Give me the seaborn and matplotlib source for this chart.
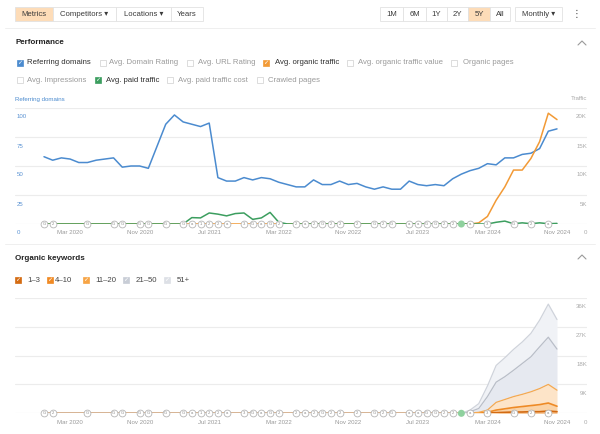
import numpy as np
import matplotlib
matplotlib.use("Agg")
import matplotlib.pyplot as plt
from matplotlib.patches import Rectangle
from matplotlib.lines import Line2D
from matplotlib import transforms
import seaborn as sns

W, H = 600, 434

# x axis: one point per month, Dec 2019 .. Nov 2024
month_ticks = [3, 11, 19, 27, 35, 43, 51, 59]
month_labels = ["Mar 2020", "Nov 2020", "Jul 2021", "Mar 2022",
                "Nov 2022", "Jul 2023", "Mar 2024", "Nov 2024"]

referring_domains = [58, 55, 57, 56, 53, 53, 55, 56, 57, 49,
                     50, 50, 48, 67, 86, 94, 88, 86, 84, 87,
                     40, 37, 37, 40, 38, 40, 39, 36, 34, 32,
                     32, 38, 34, 34, 37, 34, 35, 32, 30, 32,
                     30, 30, 37, 34, 33, 34, 33, 39, 43, 46,
                     48, 52, 51, 57, 57, 60, 61, 65, 80, 82]

# thousands
organic_traffic = [0, 0, 0, 0, 0, 0, 0, 0, 0, 0,
                   0, 0, 0, 0, 0, 0, 0, 0, 0, 0,
                   0, 0, 0, 0, 0, 0, 0, 0, 0, 0,
                   0, 0, 0, 0, 0, 0, 0, 0, 0, 0,
                   0, 0, 0, 0, 0, 0, 0, 0, 0, 0,
                   0.2, 1.3, 4.1, 6.4, 9.3, 9.3, 11.3, 14.2, 19.1, 18.0]

paid_traffic = [0, 0, 0, 0, 0, 0, 0, 0, 0, 0,
                0, 0, 0, 0, 0, 0, 0, 1.1, 1.05, 1.9,
                1.7, 1.4, 1.8, 1.9, 0.8, 1.05, 2.0, 0.3, 0, 0,
                0, 0, 0, 0, 0, 0, 0, 0, 0, 0,
                0, 0, 0, 0, 0, 0, 0, 0, 0, 0,
                0, 0, 0.3, 0.5, 0.05, 0.2, 0.05, 0.2, 0.05, 0.1]

# organic keywords by position (thousands)
kw_1_3 = [0, 0, 0, 0, 0, 0, 0, 0, 0, 0,
          0, 0, 0, 0, 0, 0, 0, 0, 0, 0,
          0, 0, 0, 0, 0, 0, 0, 0, 0, 0,
          0, 0, 0, 0, 0, 0, 0, 0, 0, 0,
          0, 0, 0, 0, 0, 0, 0, 0, 0, 0,
          0.05, 0.1, 0.2, 0.3, 0.4, 0.4, 0.5, 0.5, 0.7, 0.5]
kw_4_10 = [0, 0, 0, 0, 0, 0, 0, 0, 0, 0,
           0, 0, 0, 0, 0, 0, 0, 0, 0, 0,
           0, 0, 0, 0, 0, 0, 0, 0, 0, 0,
           0, 0, 0, 0, 0, 0, 0, 0, 0, 0,
           0, 0, 0, 0, 0, 0, 0, 0, 0, 0,
           0.05, 0.2, 0.8, 1.1, 1.4, 1.7, 1.9, 2.2, 2.5, 1.7]
kw_11_20 = [0, 0, 0, 0, 0, 0, 0, 0, 0, 0,
            0, 0, 0, 0, 0, 0, 0, 0, 0, 0,
            0, 0, 0, 0, 0, 0, 0, 0, 0, 0,
            0, 0, 0, 0, 0, 0, 0, 0, 0, 0,
            0, 0, 0, 0, 0, 0, 0, 0, 0, 0.1,
            0.2, 0.7, 2.4, 2.9, 3.4, 3.8, 4.3, 5.0, 5.8, 5.0]
kw_21_50 = [0, 0, 0, 0, 0, 0, 0, 0, 0, 0,
            0, 0, 0, 0, 0, 0, 0, 0, 0, 0,
            0, 0, 0, 0, 0, 0, 0, 0, 0, 0,
            0, 0, 0, 0, 0, 0, 0, 0, 0, 0,
            0, 0, 0, 0, 0, 0, 0, 0, 0, 0.4,
            1.2, 4.2, 6.3, 7.1, 8.2, 9.6, 10.9, 13.0, 14.7, 12.8]
kw_51 = [0, 0, 0, 0, 0, 0, 0, 0, 0, 0,
         0, 0, 0, 0, 0, 0, 0, 0, 0, 0,
         0, 0, 0, 0, 0, 0, 0, 0, 0, 0,
         0, 0, 0, 0, 0, 0, 0, 0, 0, 0,
         0, 0, 0, 0, 0, 0, 0, 0, 0, 0.5,
         1.5, 3.3, 5.2, 5.9, 6.5, 6.7, 7.3, 8.3, 10.3, 9.2]

kw_labels = ["1–3", "4–10", "11–20", "21–50", "51+"]
kw_fill = ["#f7bd84", "#fbd3a6", "#fde4c8", "#e6e9f0", "#f0f2f6"]
kw_line = ["#d26a12", "#ee8a25", "#f6a94f", "#b9bec8", "#cfd3db"]
kw_box = ["#d46b12", "#f08a24", "#f7a444", "#c8cdd6", "#dde0e6"]

# annotation markers along the baseline
ann_idx = [0, 1, 5, 8, 9, 11, 12, 14, 16, 17, 18, 19, 20, 21, 23, 24, 25, 26, 27, 29,
           30, 31, 32, 33, 34, 36, 38, 39, 40, 42, 43, 44, 45, 46, 47, 49, 51, 54, 56, 58]
ann_txt = ["G", "2", "G", "G", "G", "G", "G", "G", "G", "a", "1", "2", "2", "a", "3", "G", "a", "G", "2", "2",
           "a", "2", "G", "2", "2", "2", "G", "2", "G", "a", "a", "G", "G", "2", "2", "a", "3", "G", "2", "a"]
green_dot = 48

left_ticks = [0, 25, 50, 75, 100]
right_ticks = [0, 5, 10, 15, 20]
right_labels = ["0", "5K", "10K", "15K", "20K"]
kw_ticks = [0, 9, 18, 27, 36]
kw_tick_labels = ["0", "9K", "18K", "27K", "36K"]

BLUE = "#4b8bcf"
ORANGE = "#f29a36"
GREEN = "#3c9e5f"
GRID = "#ececec"

sns.set_theme(style="white")
plt.rcParams["font.family"] = ["Liberation Sans", "DejaVu Sans"]

fig = plt.figure(figsize=(W / 100, H / 100), dpi=100, facecolor="white")
idx = np.arange(len(referring_domains))


def txt(x, y, s, size=5.6, color="#333333", ha="left", weight="normal", **kw):
    fig.text(x / W, 1 - y / H, s, fontsize=size, color=color, ha=ha, va="center",
             fontweight=weight, **kw)


def rect(x0, y0, x1, y1, fc, ec, lw=0.6):
    fig.patches.append(Rectangle((x0 / W, 1 - y1 / H), (x1 - x0) / W, (y1 - y0) / H,
                                 transform=fig.transFigure, fc=fc, ec=ec, lw=lw))


def hline(x0, x1, y, color="#ececec", lw=0.7):
    fig.add_artist(Line2D([x0 / W, x1 / W], [1 - y / H, 1 - y / H], color=color, lw=lw))


def chevron(x, y):
    fig.add_artist(Line2D([(x - 4) / W, x / W, (x + 4) / W],
                          [1 - (y + 2) / H, 1 - (y - 2) / H, 1 - (y + 2) / H],
                          color="#9a9a9a", lw=0.8))


def checkbox(cx, cy, color=None):
    s = 6
    if color:
        rect(cx - s / 2, cy - s / 2, cx + s / 2, cy + s / 2, color, color, 0.5)
        fig.text(cx / W, 1 - cy / H, "✓", fontsize=4.5, color="white", ha="center",
                 va="center", family="DejaVu Sans", fontweight="bold")
    else:
        rect(cx - s / 2, cy - s / 2, cx + s / 2, cy + s / 2, "white", "#cfcfcf", 0.5)


# ---- toolbar ----
for x0, x1, label, on in [(15, 53, "Metrics", True), (53, 116, "Competitors ▾", False),
                          (116, 171, "Locations ▾", False), (171, 203, "Years", False)]:
    rect(x0, 7, x1, 21, "#fddcb8" if on else "white", "#e2e2e2")
    txt((x0 + x1) / 2, 14, label, ha="center", color="#3a3a3a")
for x0, x1, label, on in [(380, 403, "1M", False), (403, 426, "6M", False), (426, 447, "1Y", False),
                          (447, 468, "2Y", False), (468, 490, "5Y", True), (490, 510, "All", False)]:
    rect(x0, 7, x1, 21, "#fddcb8" if on else "white", "#e2e2e2")
    txt((x0 + x1) / 2, 14, label, ha="center", color="#3a3a3a")
rect(515, 7, 562, 21, "white", "#e2e2e2")
txt(538.5, 14, "Monthly ▾", ha="center", color="#3a3a3a")
txt(576, 14, "⋮", ha="center", color="#444444", size=7, family="DejaVu Sans")
hline(5, 595, 28, color="#efefef")

# ---- performance section ----
txt(15, 43, "Performance", weight="bold", color="#222222", size=5.8)
chevron(582, 43)
row1 = [(19.5, BLUE, "Referring domains", 27), (102.5, None, "Avg. Domain Rating", 109),
        (190, None, "Avg. URL Rating", 198), (266, ORANGE, "Avg. organic traffic", 275),
        (350, None, "Avg. organic traffic value", 358), (454.5, None, "Organic pages", 463)]
row2 = [(19.5, None, "Avg. Impressions", 27), (97.5, GREEN, "Avg. paid traffic", 106),
        (170, None, "Avg. paid traffic cost", 178), (259.5, None, "Crawled pages", 268)]
for y, row in [(63, row1), (80, row2)]:
    for cx, col, label, tx in row:
        checkbox(cx, y, col)
        txt(tx, y, label, color="#2f2f2f" if col else "#9a9a9a")

txt(15, 99, "Referring domains", color=BLUE, size=4.4)
txt(587, 99, "Traffic", color="#aaaaaa", size=4.4, ha="right")

ax1 = fig.add_axes([15 / W, 1 - 224 / H, 572 / W, 116 / H])
ax2 = ax1.twinx()
xlim = (-(44 - 15) / 8.695, 59 + (587 - 557) / 8.695)

sns.lineplot(x=idx, y=referring_domains, ax=ax1, color=BLUE, linewidth=1.1, zorder=3)
sns.lineplot(x=idx, y=organic_traffic, ax=ax2, color=ORANGE, linewidth=1.1, zorder=2)
sns.lineplot(x=idx, y=paid_traffic, ax=ax2, color=GREEN, linewidth=1.1, zorder=3)

ax1.set_ylim(0, 100)
ax2.set_ylim(0, 20)
for ax in (ax1, ax2):
    ax.set_xlim(*xlim)
    ax.set_xlabel("")
    ax.set_ylabel("")
    for sp in ax.spines.values():
        sp.set_visible(False)
ax1.set_yticks(left_ticks)
ax1.grid(axis="y", color=GRID, lw=0.8)
ax1.tick_params(axis="y", length=0, labelleft=False)
ax2.set_yticks(right_ticks)
ax2.tick_params(axis="y", length=0, labelright=False)
ax1.set_xticks(month_ticks, month_labels)
ax1.tick_params(axis="x", length=0, pad=4.5, labelsize=4.4, labelcolor="#9a9a9a")
ax2.tick_params(axis="x", bottom=False, labelbottom=False)


def ylabels(ax, ticks, labels, x_px, ha, color):
    tr = transforms.offset_copy(
        transforms.blended_transform_factory(fig.transFigure, ax.transData),
        fig=fig, x=0, y=-9, units="dots")
    for v, s in zip(ticks, labels):
        ax.text(x_px / W, v, s, transform=tr, ha=ha, va="center", fontsize=4.4,
                color=color, clip_on=False)


def markers(ax):
    ax.scatter(ann_idx, [0] * len(ann_idx), s=24, facecolor="white", edgecolor="#b5b5b5",
               linewidth=0.6, zorder=6, clip_on=False)
    for i, t in zip(ann_idx, ann_txt):
        ax.text(i, 0, t, fontsize=3.0, ha="center", va="center", color="#8a8a8a",
                zorder=7, clip_on=False)
    ax.scatter([green_dot], [0], s=26, facecolor="#8fd19e", edgecolor="none",
               zorder=6, clip_on=False)


ylabels(ax1, left_ticks, [str(v) for v in left_ticks], 17, "left", "#5b93d3")
ylabels(ax2, right_ticks, right_labels, 587, "right", "#aaaaaa")
markers(ax2)

# ---- organic keywords section ----
hline(5, 595, 244, color="#efefef")
txt(15, 258, "Organic keywords", weight="bold", color="#222222", size=5.8)
chevron(582, 257)
for cx, col, label, tx in zip([18, 49.5, 86, 126, 167], kw_box, kw_labels,
                              [27, 54.5, 95.5, 135.5, 177]):
    checkbox(cx, 280, col)
    txt(tx, 280, label, color="#444444")

ax3 = fig.add_axes([15 / W, 1 - 413.3 / H, 572 / W, 115.6 / H])
bands = [kw_1_3, kw_4_10, kw_11_20, kw_21_50, kw_51]
ax3.stackplot(idx, *bands, colors=kw_fill, linewidth=0, zorder=2)
tops = np.cumsum(np.array(bands), axis=0)
for k in range(len(bands)):
    sns.lineplot(x=idx, y=tops[k], ax=ax3, color=kw_line[k],
                 linewidth=1.2 if k < 2 else 0.9, zorder=3 + k * 0.1)
ax3.set_xlim(*xlim)
ax3.set_ylim(0, 36)
ax3.set_xlabel("")
ax3.set_ylabel("")
for sp in ax3.spines.values():
    sp.set_visible(False)
ax3.set_yticks(kw_ticks)
ax3.grid(axis="y", color=GRID, lw=0.8)
ax3.tick_params(axis="y", length=0, labelleft=False)
ax3.set_xticks(month_ticks, month_labels)
ax3.tick_params(axis="x", length=0, pad=4.5, labelsize=4.4, labelcolor="#9a9a9a")
ax3.set_axisbelow(True)
ylabels(ax3, kw_ticks, kw_tick_labels, 587, "right", "#aaaaaa")
markers(ax3)

fig.savefig("out.png", dpi=100, facecolor="white")
